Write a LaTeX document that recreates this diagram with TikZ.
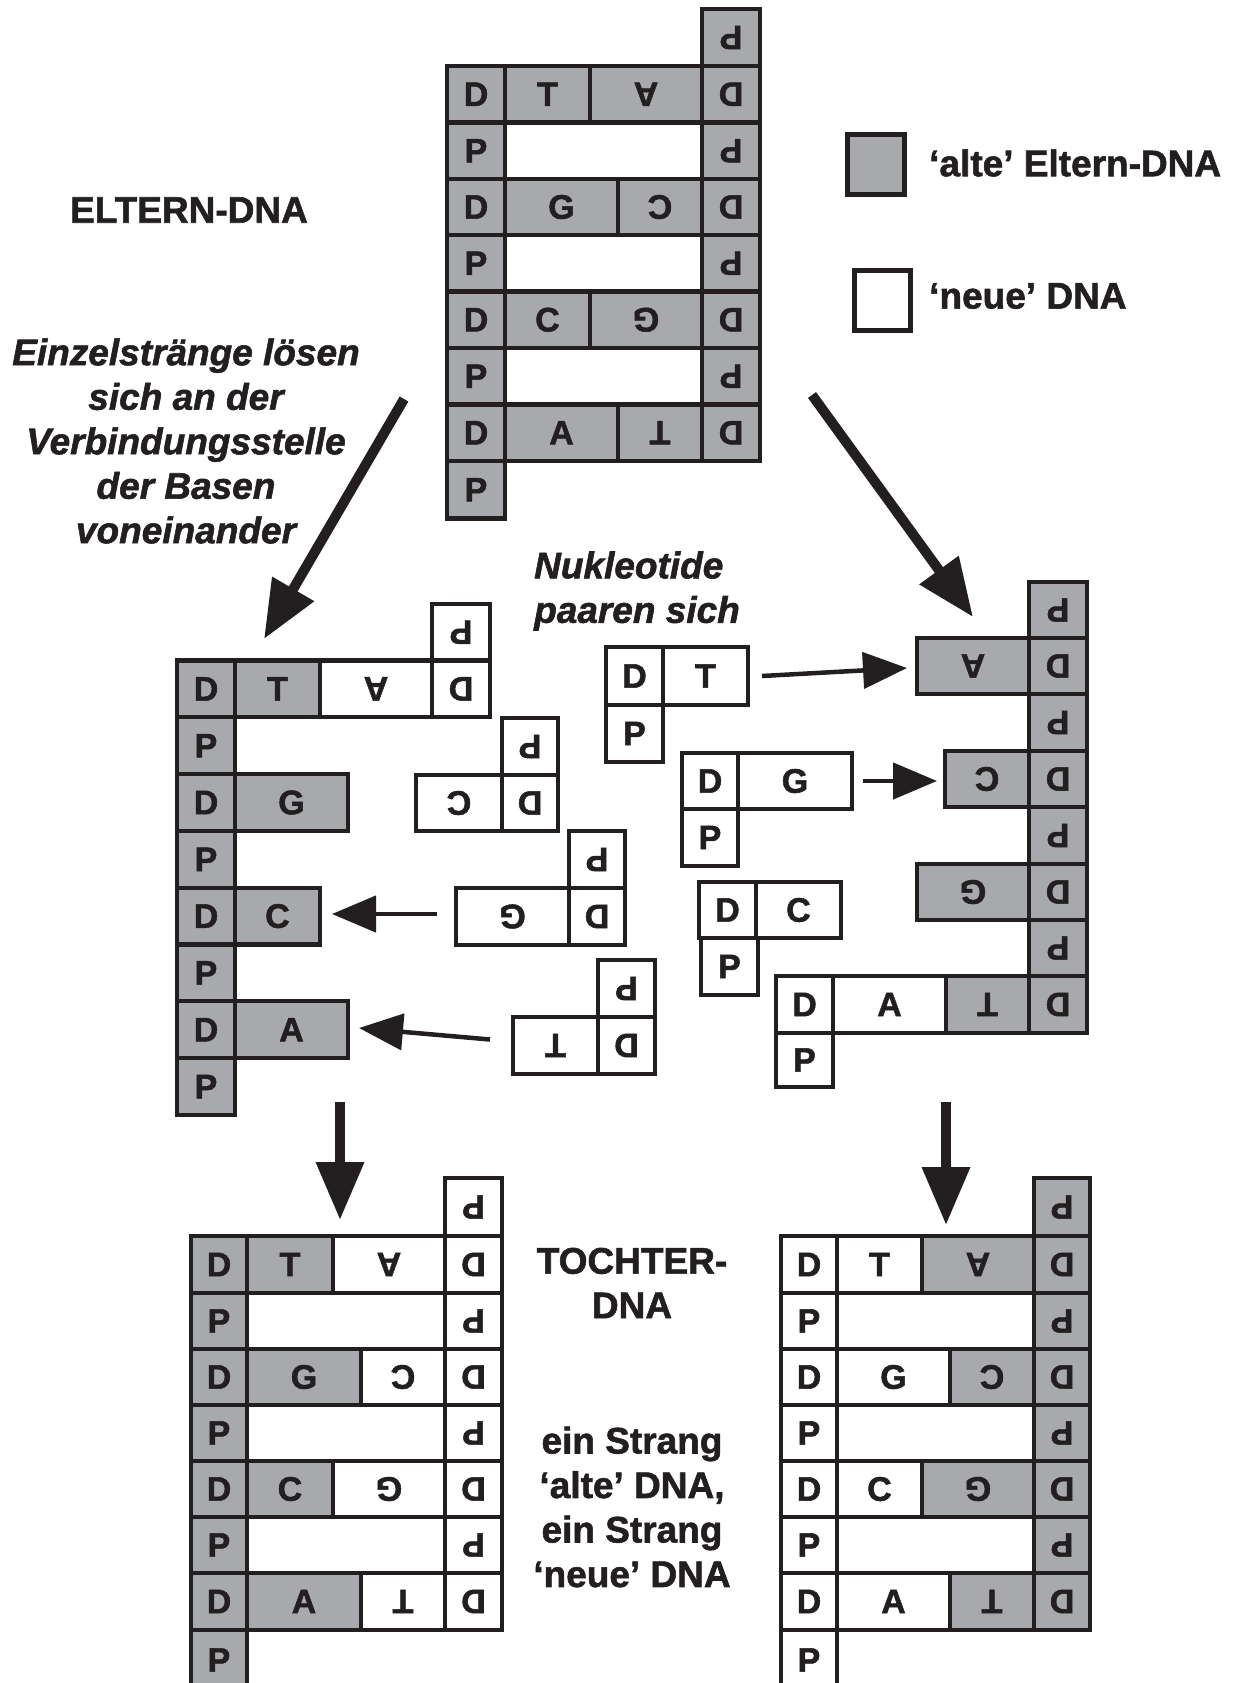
\documentclass[tikz,border=0pt]{standalone}
\usepackage{fontspec}
\usepackage{graphicx}
\setmainfont{Liberation Sans}[BoldFeatures={FakeBold=1.5},BoldItalicFeatures={FakeBold=1.5}]
\usetikzlibrary{arrows.meta}
\definecolor{oldgray}{RGB}{167,169,172}
\definecolor{ink}{RGB}{35,31,32}
\tikzset{
  cell/.style={draw=ink, line width=4.2pt, inner sep=0pt, outer sep=0pt, text=ink,
    font=\fontsize{34}{40}\selectfont\bfseries},
  old/.style={fill=oldgray},
  new/.style={fill=white},
  bigarrow/.style={draw=ink, line width=10pt, -{Triangle[length=58pt,width=46pt]}},
  smallarrow/.style={draw=ink, line width=4.5pt, -{Triangle[length=44pt,width=36pt]}},
  lbl/.style={text=ink, inner sep=0pt, font=\fontsize{37}{44.5}\selectfont\bfseries},
  ilbl/.style={text=ink, inner sep=0pt, font=\fontsize{37}{44.5}\selectfont\bfseries\itshape},
}
% name, x1, x2, y1, y2, fill style, letter, rotation
\newcommand\dnacell[8]{\node[cell,#6,rotate=#8,minimum width={#3pt-#2pt},minimum height={#5pt-#4pt}] (#1) at ({(#2+#3)/2},{(#4+#5)/2}) {#7};}
\begin{document}
\begin{tikzpicture}[x=1pt,y=-1pt]
\useasboundingbox (0,0) rectangle (1234,1683);
\clip (0,0) rectangle (1234,1683);
\fill[white] (0,0) rectangle (1234,1683);

% ---------- Parent DNA (top) ----------
\dnacell{pP0}{702}{760}{9}{66}{old}{P}{180}
\dnacell{pD1}{447}{505}{66}{122.5}{old}{D}{0}
\dnacell{pT1}{505}{590}{66}{122.5}{old}{T}{0}
\dnacell{pA1}{590}{702}{66}{122.5}{old}{A}{180}
\dnacell{pE1}{702}{760}{66}{122.5}{old}{D}{180}
\dnacell{pP2}{447}{505}{122.5}{179}{old}{P}{0}
\dnacell{pQ2}{702}{760}{122.5}{179}{old}{P}{180}
\dnacell{pD3}{447}{505}{179}{235}{old}{D}{0}
\dnacell{pG3}{505}{618}{179}{235}{old}{G}{0}
\dnacell{pC3}{618}{702}{179}{235}{old}{C}{180}
\dnacell{pE3}{702}{760}{179}{235}{old}{D}{180}
\dnacell{pP4}{447}{505}{235}{291.5}{old}{P}{0}
\dnacell{pQ4}{702}{760}{235}{291.5}{old}{P}{180}
\dnacell{pD5}{447}{505}{291.5}{348}{old}{D}{0}
\dnacell{pC5}{505}{590}{291.5}{348}{old}{C}{0}
\dnacell{pG5}{590}{702}{291.5}{348}{old}{G}{180}
\dnacell{pE5}{702}{760}{291.5}{348}{old}{D}{180}
\dnacell{pP6}{447}{505}{348}{404.5}{old}{P}{0}
\dnacell{pQ6}{702}{760}{348}{404.5}{old}{P}{180}
\dnacell{pD7}{447}{505}{404.5}{461}{old}{D}{0}
\dnacell{pA7}{505}{618}{404.5}{461}{old}{A}{0}
\dnacell{pT7}{618}{702}{404.5}{461}{old}{T}{180}
\dnacell{pE7}{702}{760}{404.5}{461}{old}{D}{180}
\dnacell{pP8}{447}{505}{461}{518.5}{old}{P}{0}

% ---------- Middle left strand ----------
\dnacell{mlP0}{432}{490}{604}{660.5}{new}{P}{180}
\dnacell{mlD1}{177}{235}{660.5}{717.3}{old}{D}{0}
\dnacell{mlT1}{235}{320}{660.5}{717.3}{old}{T}{0}
\dnacell{mlA1}{320}{432}{660.5}{717.3}{new}{A}{180}
\dnacell{mlE1}{432}{490}{660.5}{717.3}{new}{D}{180}
\dnacell{mlP2}{177}{235}{717.3}{774.1}{old}{P}{0}
\dnacell{mlD3}{177}{235}{774.1}{830.9}{old}{D}{0}
\dnacell{mlG3}{235}{348}{774.1}{830.9}{old}{G}{0}
\dnacell{mlP4}{177}{235}{830.9}{887.7}{old}{P}{0}
\dnacell{mlD5}{177}{235}{887.7}{944.5}{old}{D}{0}
\dnacell{mlC5}{235}{320}{887.7}{944.5}{old}{C}{0}
\dnacell{mlP6}{177}{235}{944.5}{1001.3}{old}{P}{0}
\dnacell{mlD7}{177}{235}{1001.3}{1058.1}{old}{D}{0}
\dnacell{mlA7}{235}{348}{1001.3}{1058.1}{old}{A}{0}
\dnacell{mlP8}{177}{235}{1058.1}{1115}{old}{P}{0}

% free nucleotides (left)
\dnacell{flCP}{502}{558}{718}{775}{new}{P}{180}
\dnacell{flCB}{416}{502}{775}{831}{new}{C}{180}
\dnacell{flCD}{502}{558}{775}{831}{new}{D}{180}
\dnacell{flGP}{569}{625}{831}{888}{new}{P}{180}
\dnacell{flGB}{456}{569}{888}{945}{new}{G}{180}
\dnacell{flGD}{569}{625}{888}{945}{new}{D}{180}
\dnacell{flTP}{598}{655}{960}{1017}{new}{P}{180}
\dnacell{flTB}{513}{598}{1017}{1074}{new}{T}{180}
\dnacell{flTD}{598}{655}{1017}{1074}{new}{D}{180}

% ---------- Middle right strand ----------
\dnacell{mrP0}{1029}{1087}{582}{638}{old}{P}{180}
\dnacell{mrA1}{917}{1029}{638}{694}{old}{A}{180}
\dnacell{mrE1}{1029}{1087}{638}{694}{old}{D}{180}
\dnacell{mrQ2}{1029}{1087}{694}{751}{old}{P}{180}
\dnacell{mrC3}{945}{1029}{751}{807}{old}{C}{180}
\dnacell{mrE3}{1029}{1087}{751}{807}{old}{D}{180}
\dnacell{mrQ4}{1029}{1087}{807}{864}{old}{P}{180}
\dnacell{mrG5}{917}{1029}{864}{920}{old}{G}{180}
\dnacell{mrE5}{1029}{1087}{864}{920}{old}{D}{180}
\dnacell{mrQ6}{1029}{1087}{920}{976}{old}{P}{180}
\dnacell{mrA7}{833}{946}{976}{1033}{new}{A}{0}
\dnacell{mrD7}{776}{833}{976}{1033}{new}{D}{0}
\dnacell{mrT7}{946}{1029}{976}{1033}{old}{T}{180}
\dnacell{mrE7}{1029}{1087}{976}{1033}{old}{D}{180}
\dnacell{mrP8}{776}{833}{1033}{1087}{new}{P}{0}

% free nucleotides (right)
\dnacell{frTD}{606}{663}{647}{705}{new}{D}{0}
\dnacell{frTB}{663}{748}{647}{705}{new}{T}{0}
\dnacell{frTP}{606}{663}{705}{762}{new}{P}{0}
\dnacell{frGD}{682}{738}{753}{809}{new}{D}{0}
\dnacell{frGB}{738}{852}{753}{809}{new}{G}{0}
\dnacell{frGP}{682}{738}{809}{866}{new}{P}{0}
\dnacell{frCD}{699}{756}{882}{938}{new}{D}{0}
\dnacell{frCB}{756}{841}{882}{938}{new}{C}{0}
\dnacell{frCP}{701}{758}{938}{995}{new}{P}{0}

% ---------- Bottom left daughter ----------
\dnacell{blP0}{445}{502}{1178}{1236}{new}{P}{180}
\dnacell{blD1}{191}{247}{1236}{1293}{old}{D}{0}
\dnacell{blT1}{247}{333}{1236}{1293}{old}{T}{0}
\dnacell{blA1}{333}{445}{1236}{1293}{new}{A}{180}
\dnacell{blE1}{445}{502}{1236}{1293}{new}{D}{180}
\dnacell{blP2}{191}{247}{1293}{1349}{old}{P}{0}
\dnacell{blQ2}{445}{502}{1293}{1349}{new}{P}{180}
\dnacell{blD3}{191}{247}{1349}{1405}{old}{D}{0}
\dnacell{blG3}{247}{361}{1349}{1405}{old}{G}{0}
\dnacell{blC3}{361}{445}{1349}{1405}{new}{C}{180}
\dnacell{blE3}{445}{502}{1349}{1405}{new}{D}{180}
\dnacell{blP4}{191}{247}{1405}{1461}{old}{P}{0}
\dnacell{blQ4}{445}{502}{1405}{1461}{new}{P}{180}
\dnacell{blD5}{191}{247}{1461}{1517}{old}{D}{0}
\dnacell{blC5}{247}{333}{1461}{1517}{old}{C}{0}
\dnacell{blG5}{333}{445}{1461}{1517}{new}{G}{180}
\dnacell{blE5}{445}{502}{1461}{1517}{new}{D}{180}
\dnacell{blP6}{191}{247}{1517}{1573}{old}{P}{0}
\dnacell{blQ6}{445}{502}{1517}{1573}{new}{P}{180}
\dnacell{blD7}{191}{247}{1573}{1630}{old}{D}{0}
\dnacell{blA7}{247}{361}{1573}{1630}{old}{A}{0}
\dnacell{blT7}{361}{445}{1573}{1630}{new}{T}{180}
\dnacell{blE7}{445}{502}{1573}{1630}{new}{D}{180}
\dnacell{blP8}{191}{247}{1630}{1690}{old}{P}{0}

% ---------- Bottom right daughter ----------
\dnacell{brP0}{1034}{1090}{1178}{1236}{old}{P}{180}
\dnacell{brD1}{781}{837}{1236}{1293}{new}{D}{0}
\dnacell{brT1}{837}{922}{1236}{1293}{new}{T}{0}
\dnacell{brA1}{922}{1034}{1236}{1293}{old}{A}{180}
\dnacell{brE1}{1034}{1090}{1236}{1293}{old}{D}{180}
\dnacell{brP2}{781}{837}{1293}{1349}{new}{P}{0}
\dnacell{brQ2}{1034}{1090}{1293}{1349}{old}{P}{180}
\dnacell{brD3}{781}{837}{1349}{1405}{new}{D}{0}
\dnacell{brG3}{837}{950}{1349}{1405}{new}{G}{0}
\dnacell{brC3}{950}{1034}{1349}{1405}{old}{C}{180}
\dnacell{brE3}{1034}{1090}{1349}{1405}{old}{D}{180}
\dnacell{brP4}{781}{837}{1405}{1461}{new}{P}{0}
\dnacell{brQ4}{1034}{1090}{1405}{1461}{old}{P}{180}
\dnacell{brD5}{781}{837}{1461}{1517}{new}{D}{0}
\dnacell{brC5}{837}{922}{1461}{1517}{new}{C}{0}
\dnacell{brG5}{922}{1034}{1461}{1517}{old}{G}{180}
\dnacell{brE5}{1034}{1090}{1461}{1517}{old}{D}{180}
\dnacell{brP6}{781}{837}{1517}{1573}{new}{P}{0}
\dnacell{brQ6}{1034}{1090}{1517}{1573}{old}{P}{180}
\dnacell{brD7}{781}{837}{1573}{1630}{new}{D}{0}
\dnacell{brA7}{837}{950}{1573}{1630}{new}{A}{0}
\dnacell{brT7}{950}{1034}{1573}{1630}{old}{T}{180}
\dnacell{brE7}{1034}{1090}{1573}{1630}{old}{D}{180}
\dnacell{brP8}{781}{837}{1630}{1690}{new}{P}{0}

% ---------- Legend ----------
\node[cell,old,line width=5pt,minimum width=57pt,minimum height=60pt] (legold) at (876,164.5) {};
\node[cell,new,line width=5pt,minimum width=56pt,minimum height=60pt] (legnew) at (882.5,300.5) {};
\node[lbl,anchor=west] (legoldtxt) at (929,163) {‘alte’ Eltern-DNA};
\node[lbl,anchor=west] (legnewtxt) at (929,296) {‘neue’ DNA};

% ---------- Labels ----------
\node[lbl] (eltern) at (189,210) {ELTERN-DNA};
\node[ilbl,align=center] (loesen) at (186,441) {Einzelstränge lösen\\sich an der\\Verbindungsstelle\\der Basen\\voneinander};
\node[ilbl,align=left,anchor=west] (paaren) at (534,591) {Nukleotide\\paaren sich};
\node[lbl,align=center] (tochter) at (632,1283) {TOCHTER-\\DNA};
\node[lbl,align=center] (strang) at (632,1507) {ein Strang\\‘alte’ DNA,\\ein Strang\\‘neue’ DNA};

% ---------- Arrows ----------
\coordinate (a1s) at (404,399); \coordinate (a1e) at (264,639);
\coordinate (a2s) at (812,395); \coordinate (a2e) at (973,617);
\coordinate (a3s) at (340,1102); \coordinate (a3e) at (340,1220);
\coordinate (a4s) at (946,1102); \coordinate (a4e) at (946,1225);
\draw[bigarrow] (a1s) -- (a1e);
\draw[bigarrow] (a2s) -- (a2e);
\draw[bigarrow] (a3s) -- (a3e);
\draw[bigarrow] (a4s) -- (a4e);

\coordinate (s1s) at (437,914); \coordinate (s1e) at (332,914);
\coordinate (s2s) at (490,1039.5); \coordinate (s2e) at (359,1028);
\coordinate (s3s) at (762,676); \coordinate (s3e) at (907,668);
\coordinate (s4s) at (863,781); \coordinate (s4e) at (937,781);
\draw[smallarrow] (s1s) -- (s1e);
\draw[smallarrow] (s2s) -- (s2e);
\draw[smallarrow] (s3s) -- (s3e);
\draw[smallarrow] (s4s) -- (s4e);
\end{tikzpicture}
\end{document}
